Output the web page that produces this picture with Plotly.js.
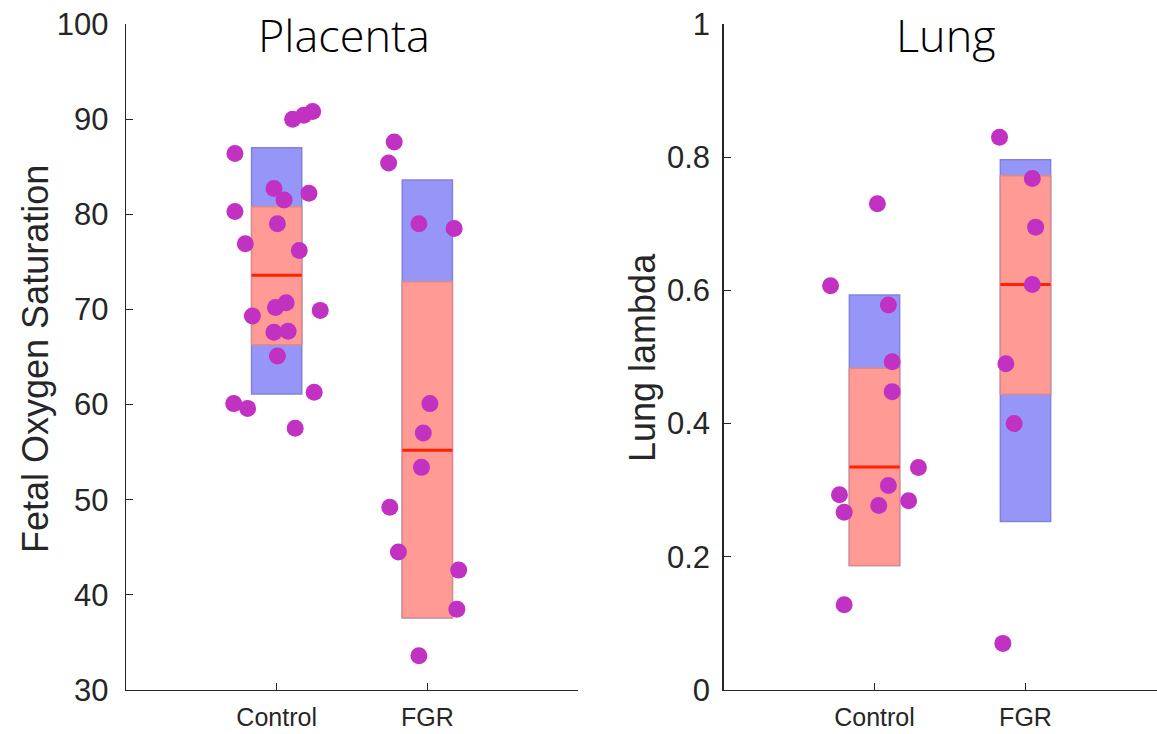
<!DOCTYPE html>
<html>
<head>
<meta charset="utf-8">
<script src="https://cdn.plot.ly/plotly-3.0.1.min.js"></script>
<style>html,body{margin:0;padding:0;background:#fff;}#chart{width:1157px;height:734px;}</style>
</head>
<body>
<div id="chart"></div>
<script>
// ---- data ----
var groups = ['Control', 'FGR'];
var groupPos = [1, 2];

// Placenta: fetal oxygen saturation
var placentaCtrlX = [0.723,0.723,0.792,0.839,0.715,0.807,0.982,1.049,1.005,0.992,1.063,0.982,1.076,1.005,1.150,1.214,1.106,1.180,1.239,1.289,1.249,1.123];
var placentaCtrlY = [86.4,80.3,76.9,69.3,60.1,59.6,82.7,81.5,79.0,70.2,70.7,67.6,67.7,65.1,76.2,82.2,90.0,90.4,90.8,69.9,61.3,57.5];
var placentaFgrX = [1.780,1.743,1.944,2.178,2.017,1.973,1.961,1.751,1.808,2.208,2.196,1.944];
var placentaFgrY = [87.6,85.4,79.0,78.5,60.1,57.0,53.4,49.2,44.5,42.6,38.5,33.6];
var placentaMean = [73.6, 55.2];
var placentaCiLow = [66.3, 37.6];
var placentaCiHigh = [80.8, 72.9];
var placentaSdLow = [61.1, 37.6];
var placentaSdHigh = [87.0, 83.6];

// Lung: lambda
var lungCtrlX = [0.709,1.019,1.092,1.117,1.117,1.291,1.092,1.226,1.028,0.768,0.799,0.799];
var lungCtrlY = [0.607,0.730,0.578,0.493,0.448,0.334,0.307,0.284,0.277,0.293,0.267,0.128];
var lungFgrX = [1.828,2.045,2.067,2.045,1.870,1.925,1.850];
var lungFgrY = [0.830,0.768,0.695,0.609,0.490,0.400,0.070];
var lungMean = [0.335, 0.609];
var lungCiLow = [0.187, 0.444];
var lungCiHigh = [0.483, 0.772];
var lungSdLow = [0.187, 0.253];
var lungSdHigh = [0.593, 0.796];

var yTicksPlacenta = [30,40,50,60,70,80,90,100];
var yTicksLung = [0,0.2,0.4,0.6,0.8,1];

// ---- styling ----
var boxWidth = 0.333;
var blueFill = '#9696F9', blueEdge = '#8282DC';
var pinkFill = '#FF9A95', pinkEdge = '#E08A88';
var dotColor = '#C131C2';
var meanColor = '#FF2200';
var axisColor = '#262626';

function diff(a, b) { return a.map(function (v, i) { return v - b[i]; }); }

function boxTraces(xa, ya, sdLo, sdHi, ciLo, ciHi, mean) {
  var mx = [], my = [];
  groupPos.forEach(function (p, i) {
    mx.push(p - boxWidth / 2, p + boxWidth / 2, null);
    my.push(mean[i], mean[i], null);
  });
  return [
    {type: 'bar', x: groupPos, base: sdLo, y: diff(sdHi, sdLo), width: boxWidth,
     marker: {color: blueFill, line: {color: blueEdge, width: 1.5}},
     xaxis: xa, yaxis: ya, hoverinfo: 'skip', showlegend: false},
    {type: 'bar', x: groupPos, base: ciLo, y: diff(ciHi, ciLo), width: boxWidth,
     marker: {color: pinkFill, line: {color: pinkEdge, width: 1.5}},
     xaxis: xa, yaxis: ya, hoverinfo: 'skip', showlegend: false},
    {type: 'scatter', mode: 'lines', x: mx, y: my,
     line: {color: meanColor, width: 3}, xaxis: xa, yaxis: ya, showlegend: false}
  ];
}

function dots(x, y, xa, ya) {
  return {type: 'scatter', mode: 'markers', x: x, y: y, xaxis: xa, yaxis: ya,
    marker: {color: dotColor, size: 17, line: {width: 0}}, showlegend: false};
}

var data = []
  .concat(boxTraces('x', 'y', placentaSdLow, placentaSdHigh, placentaCiLow, placentaCiHigh, placentaMean))
  .concat([dots(placentaCtrlX, placentaCtrlY, 'x', 'y'), dots(placentaFgrX, placentaFgrY, 'x', 'y')])
  .concat(boxTraces('x2', 'y2', lungSdLow, lungSdHigh, lungCiLow, lungCiHigh, lungMean))
  .concat([dots(lungCtrlX, lungCtrlY, 'x2', 'y2'), dots(lungFgrX, lungFgrY, 'x2', 'y2')]);

var W = 1157, plotTop = 23.5, plotBottom = 690.5, H = plotBottom - plotTop;
function px(v) { return v / W; }
function py(v) { return (plotBottom - v) / H; }

var tickFontY = {family: 'Liberation Sans, Arial, sans-serif', size: 31, color: axisColor};
var tickFontX = {family: 'Liberation Sans, Arial, sans-serif', size: 25, color: axisColor};

function xAxis(domain, range) {
  return {domain: domain, range: range, tickvals: groupPos, ticktext: groups,
    ticks: 'inside', ticklen: 7, tickcolor: axisColor, tickwidth: 1,
    showline: true, linecolor: axisColor, linewidth: 1.2, showgrid: false, zeroline: false,
    tickfont: tickFontX, ticklabelstandoff: 5, fixedrange: true};
}
function yAxis(range, ticks, anchor, standoff) {
  return {domain: [0, 1], range: range, tickvals: ticks, anchor: anchor,
    ticks: 'inside', ticklen: 7, tickcolor: axisColor, tickwidth: 1,
    showline: true, linecolor: axisColor, linewidth: 1.2, showgrid: false, zeroline: false,
    tickfont: tickFontY, ticklabelstandoff: standoff, fixedrange: true};
}

var layout = {
  width: W, height: 734,
  margin: {l: 0, r: 0, t: plotTop, b: 734 - plotBottom, pad: 0},
  paper_bgcolor: '#ffffff', plot_bgcolor: '#ffffff',
  barmode: 'overlay',
  showlegend: false,
  xaxis: xAxis([px(126), px(578)], [0, 3]),
  yaxis: yAxis([30, 100], yTicksPlacenta, 'x', 10),
  xaxis2: Object.assign(xAxis([px(723.5), 1], [0, (W - 723.5) / 151]), {anchor: 'y2'}),
  yaxis2: yAxis([0, 1], yTicksLung, 'x2', 6),
  annotations: [
    {text: 'Placenta', xref: 'paper', yref: 'paper', x: px(344), y: py(34), xanchor: 'center', yanchor: 'middle',
     showarrow: false, font: {family: 'Open Sans, Lato, sans-serif', size: 45, weight: 300, color: '#000'}},
    {text: 'Lung', xref: 'paper', yref: 'paper', x: px(946), y: py(34), xanchor: 'center', yanchor: 'middle',
     showarrow: false, font: {family: 'Open Sans, Lato, sans-serif', size: 45, weight: 300, color: '#000'}},
    {text: 'Fetal Oxygen Saturation', xref: 'paper', yref: 'paper', x: px(36), y: py(359), textangle: -90,
     xanchor: 'center', yanchor: 'middle', showarrow: false,
     font: {family: 'Liberation Sans, Arial, sans-serif', size: 36, color: axisColor}},
    {text: 'Lung lambda', xref: 'paper', yref: 'paper', x: px(643), y: py(358), textangle: -90,
     xanchor: 'center', yanchor: 'middle', showarrow: false,
     font: {family: 'Liberation Sans, Arial, sans-serif', size: 36, color: axisColor}}
  ]
};

Plotly.newPlot('chart', data, layout, {displayModeBar: false, staticPlot: true});
</script>
</body>
</html>
